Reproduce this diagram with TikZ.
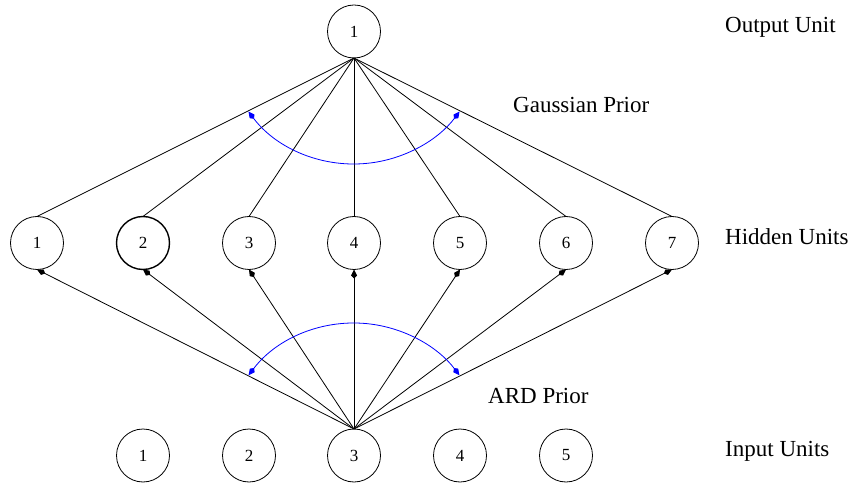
\documentclass[tikz,border=0pt]{standalone}
\usepackage{fontspec}
\setmainfont{Liberation Serif}
\usetikzlibrary{arrows.meta}
\begin{document}
\begin{tikzpicture}[x=1pt,y=1pt,
  unit/.style={circle,draw,line width=0.8pt,minimum size=53pt,inner sep=0pt,outer sep=0pt,
    font=\fontsize{17}{17}\selectfont},
  layerlabel/.style={anchor=base west,inner sep=0pt,font=\fontsize{23}{23}\selectfont},
  link/.style={line width=0.8pt},
  feed/.style={line width=0.8pt,-{Kite[length=9pt,width=6pt,inset=3pt]}},
  prior/.style={blue,line width=0.8pt,{Kite[length=9pt,width=6pt,inset=3pt]}-{Kite[length=9pt,width=6pt,inset=3pt]}}]
\useasboundingbox (0,0) rectangle (853,482);

% output layer
\node[unit] (out) at (354,450.5) {1};

% hidden layer
\foreach \i/\x in {1/37,3/249,4/354,5/460,6/566,7/672}
  \node[unit] (h\i) at (\x,239) {\i};
\node[unit,line width=1.4pt] (h2) at (143,239) {2};

% input layer
\foreach \i/\x in {1/143,2/249,3/354,4/460,5/566}
  \node[unit] (in\i) at (\x,26.5) {\i};

% hidden-to-output weights
\foreach \i in {1,...,7}
  \draw[link] (out.south) -- (h\i.north);

% input-to-hidden weights from one input
\foreach \i in {1,...,7}
  \draw[feed] (in3.north) -- (h\i.south);

% prior arcs
\draw[prior] ([shift={(217.2:132.5pt)}]out.center) arc[start angle=217.2,end angle=322.8,radius=132.5pt];
\draw[prior] ([shift={(142.7:132.5pt)}]in3.center) arc[start angle=142.7,end angle=37.3,radius=132.5pt];

% layer captions
\node[layerlabel] (lout) at (725,449.3) {Output Unit};
\node[layerlabel] (lgp) at (513,369.7) {Gaussian Prior};
\node[layerlabel] (lhid) at (725,237) {Hidden Units};
\node[layerlabel] (lard) at (488,78.7) {ARD Prior};
\node[layerlabel] (lin) at (725,26) {Input Units};
\end{tikzpicture}
\end{document}
